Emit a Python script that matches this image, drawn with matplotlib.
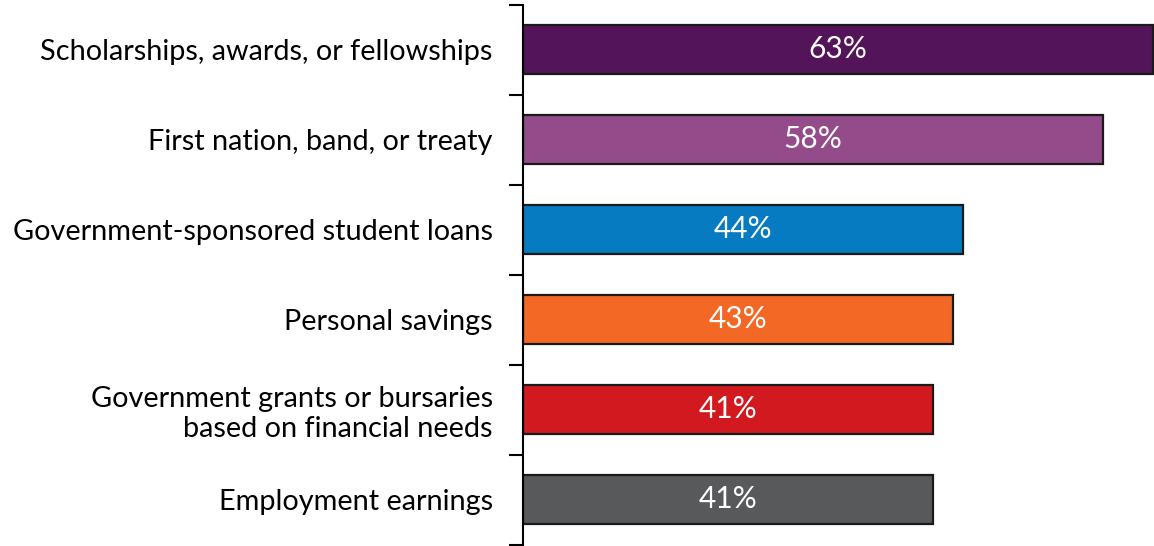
import matplotlib
matplotlib.use("Agg")
import matplotlib.pyplot as plt

categories = [
    "Scholarships, awards, or fellowships",
    "First nation, band, or treaty",
    "Government-sponsored student loans",
    "Personal savings",
    "Government grants or bursaries\nbased on financial needs",
    "Employment earnings",
]
values = [63, 58, 44, 43, 41, 41]
colors = ["#54145A", "#934B89", "#077BC1", "#F26824", "#D2191F", "#58595B"]

plt.rcParams["font.family"] = ["Lato", "DejaVu Sans"]

W, H = 1154, 546
fig = plt.figure(figsize=(W / 100, H / 100), dpi=100)
ax = fig.add_axes([522.5 / W, 1.5 / H, (W - 522.5) / W, 540 / H])

ypos = list(range(len(categories)))
ax.barh(ypos, values, height=0.535, color=colors, edgecolor="#1a1a1a", linewidth=1.6)

for y, v in zip(ypos, values):
    ax.text(v / 2, y, f"{v}%", ha="center", va="center", color="white", fontsize=21.5)

ax.set_xlim(0, 63.1)
ax.set_ylim(len(categories) - 0.5, -0.5)

ax.set_yticks([i - 0.5 for i in range(len(categories) + 1)])
ax.set_yticklabels([])
ax.set_yticks(ypos, minor=True)
ax.set_yticklabels(categories, minor=True, fontsize=20.8, linespacing=1.2)
ax.tick_params(axis="y", which="major", length=10, width=1.5, color="black")
ax.tick_params(axis="y", which="minor", length=0, pad=21.5)
ax.set_xticks([])

for s in ["top", "right", "bottom"]:
    ax.spines[s].set_visible(False)
ax.spines["left"].set_linewidth(1.5)

fig.savefig("out.png", dpi=100)
